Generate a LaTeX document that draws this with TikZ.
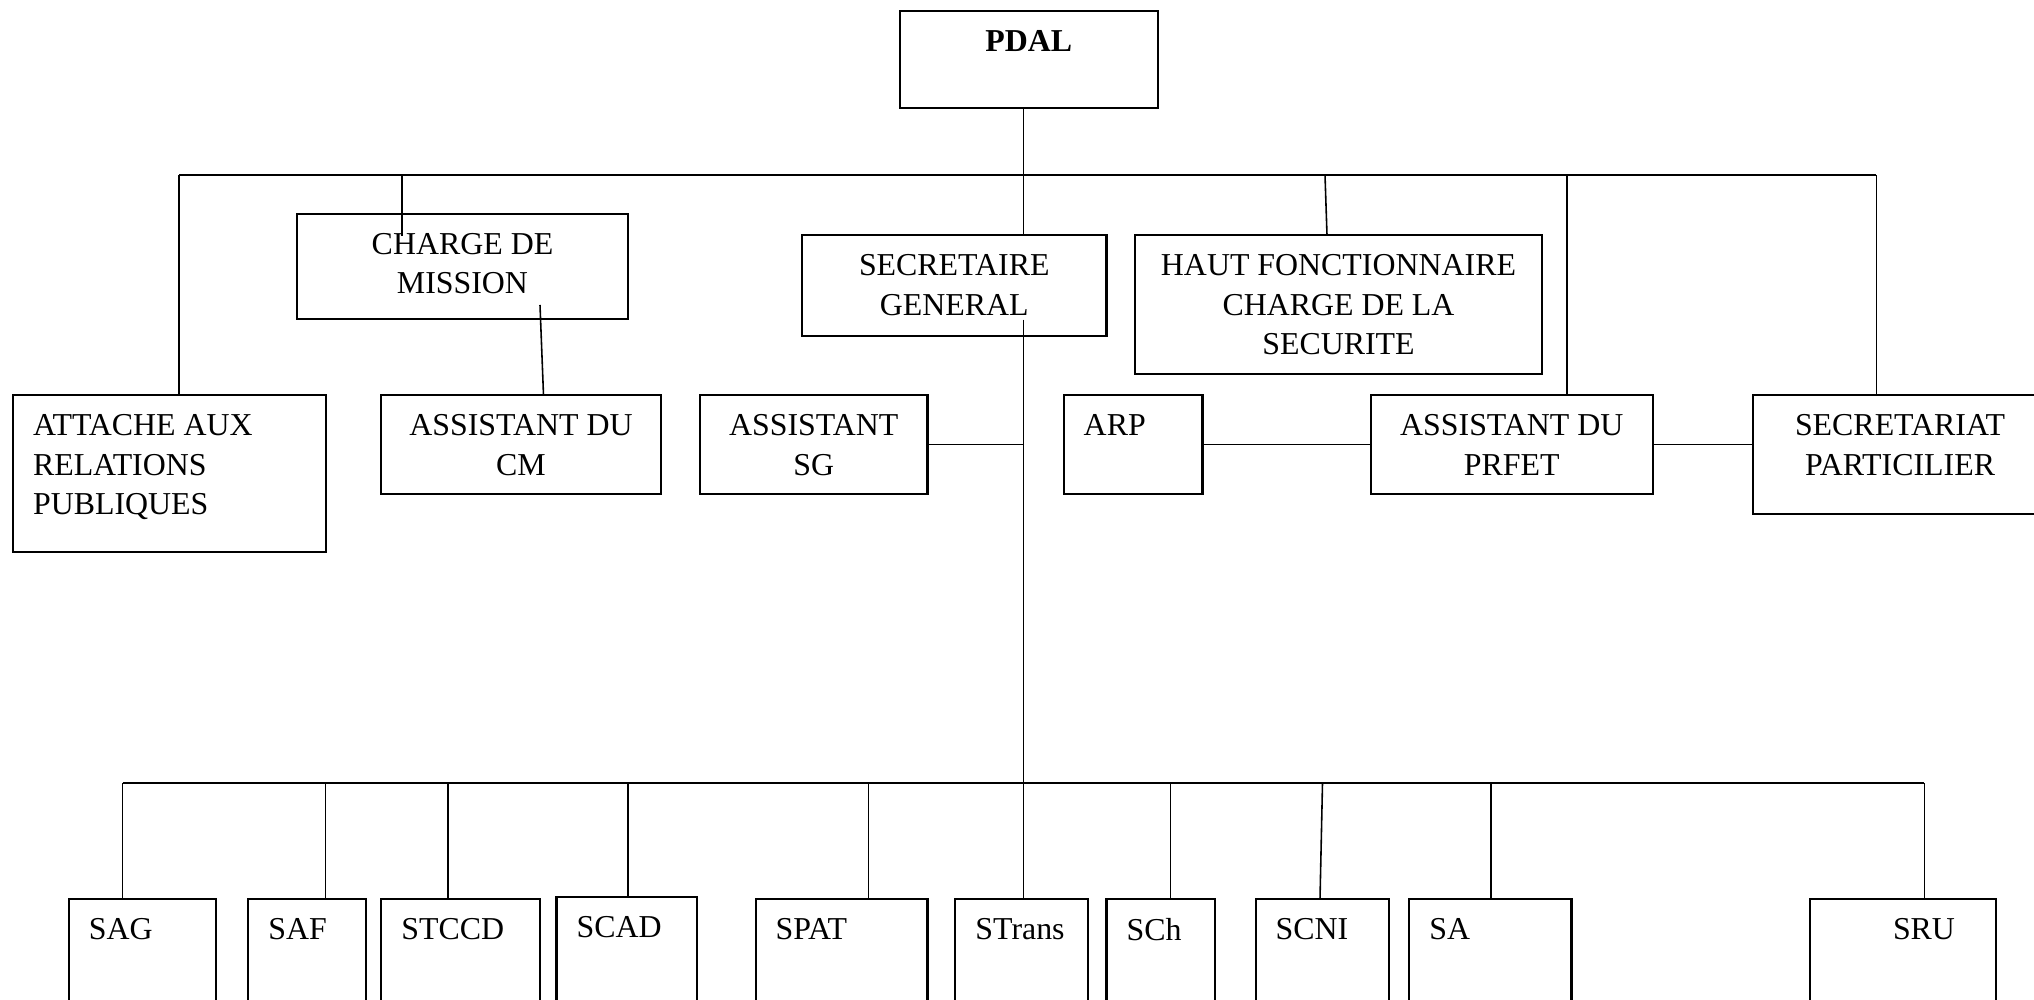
\documentclass[tikz,border=0pt]{standalone}
\usepackage{fontspec}
\setmainfont{Liberation Serif}
\usetikzlibrary{positioning}
\tikzset{
	boite/.style 2 args={draw,line width=0.6pt,minimum width=#1cm,minimum height=#2cm,
		inner sep=0pt,outer sep=0pt,anchor=north west},
	lien/.style={line width=0.45pt},
	barre/.style={line width=0.65pt},
	texte/.style={inner sep=0pt,outer sep=0pt,align=center,
		font=\fontsize{9.07}{11.27}\selectfont},
	texteg/.style={texte,align=left}
}
\begin{document}
\begin{tikzpicture}
	\useasboundingbox (0,0) rectangle (20.34,-10);
	\clip (0,0) rectangle (20.34,-10);
	%cases du haut
	\node[boite={2.584}{0.972}] (pdal) at (8.996,-0.107) {};
	\node[boite={3.31}{1.05}] (cdm) at (2.97,-2.136) {};
	\node[boite={3.045}{1.014}] (sg) at (8.02,-2.35) {};
	\node[boite={4.07}{1.39}] (hfcs) at (11.35,-2.35) {};
	\node[boite={3.126}{1.57}] (att) at (0.13,-3.95) {};
	\node[boite={2.80}{0.99}] (acm) at (3.81,-3.95) {};
	\node[boite={2.275}{0.99}] (asg) at (7.00,-3.95) {};
	\node[boite={1.388}{0.99}] (arp) at (10.637,-3.95) {};
	\node[boite={2.816}{0.99}] (apr) at (13.71,-3.95) {};
	\node[boite={2.94}{1.186}] (spart) at (17.53,-3.95) {};
	%services
	\node[boite={1.472}{1.3}] (sag) at (0.688,-8.993) {};
	\node[boite={1.174}{1.3}] (saf) at (2.484,-8.993) {};
	\node[boite={1.589}{1.3}] (stccd) at (3.814,-8.993) {};
	\node[boite={1.407}{1.3}] (scad) at (5.565,-8.973) {};
	\node[boite={1.719}{1.3}] (spat) at (7.556,-8.993) {};
	\node[boite={1.329}{1.3}] (strans) at (9.554,-8.993) {};
	\node[boite={1.083}{1.3}] (sch) at (11.065,-8.993) {};
	\node[boite={1.336}{1.3}] (scni) at (12.557,-8.993) {};
	\node[boite={1.621}{1.3}] (sa) at (14.094,-8.993) {};
	\node[boite={1.868}{1.3}] (sru) at (18.096,-8.993) {};
	%textes
	\node[texte,below=5.5pt of pdal.north,font=\fontsize{9.07}{11.27}\selectfont\bfseries] (t-pdal) {PDAL};
	\node[texte,below=5.5pt of cdm.north] (t-cdm) {CHARGE DE\\MISSION};
	\node[texte,below=5.5pt of sg.north] (t-sg) {SECRETAIRE\\GENERAL};
	\node[texte,below=5.5pt of hfcs.north] (t-hfcs) {HAUT FONCTIONNAIRE\\CHARGE DE LA\\SECURITE};
	\node[texteg,below right=5.5pt and 5.7pt of att.north west] (t-att) {ATTACHE AUX\\RELATIONS\\PUBLIQUES};
	\node[texte,below=5.5pt of acm.north] (t-acm) {ASSISTANT DU\\CM};
	\node[texte,below=5.5pt of asg.north] (t-asg) {ASSISTANT\\SG};
	\node[texteg,below right=5.5pt and 5.7pt of arp.north west] (t-arp) {ARP};
	\node[texte,below=5.5pt of apr.north] (t-apr) {ASSISTANT DU\\PRFET};
	\node[texte,below=5.5pt of spart.north] (t-spart) {SECRETARIAT\\PARTICILIER};
	\node[texteg,below right=5.5pt and 5.7pt of sag.north west] (t-sag) {SAG};
	\node[texteg,below right=5.5pt and 5.7pt of saf.north west] (t-saf) {SAF};
	\node[texteg,below right=5.5pt and 5.7pt of stccd.north west] (t-stccd) {STCCD};
	\node[texteg,below right=5.5pt and 5.7pt of scad.north west] (t-scad) {SCAD};
	\node[texteg,below right=5.5pt and 5.7pt of spat.north west] (t-spat) {SPAT};
	\node[texteg,below right=5.5pt and 5.7pt of strans.north west] (t-strans) {STrans};
	\node[texteg,below right=5.5pt and 5.7pt of sch.north west] (t-sch) {SCh};
	\node[texteg,below right=5.5pt and 5.7pt of scni.north west] (t-scni) {SCNI};
	\node[texteg,below right=5.5pt and 5.7pt of sa.north west] (t-sa) {SA};
	\node[texte,below=5.5pt of sru.north,xshift=0.21cm] (t-sru) {SRU};
	%liens du haut
	\coordinate (hg) at (1.79,-1.75);
	\coordinate (hd) at (18.764,-1.75);
	\coordinate (axe) at (10.235,-3.196);
	\coordinate (c1) at (4.02,-2.357);
	\coordinate (c2) at (5.40,-3.05);
	\draw[barre] (hg) -- (hd);
	\draw[lien] (hg) -- (att.north -| hg);
	\draw[lien] (hd) -- (spart.north -| hd);
	\draw[lien] (c1 |- hg) -- (c1);
	\draw[lien] (pdal.south -| axe) -- (sg.north -| axe);
	\draw[lien] ([xshift=-0.135cm]hfcs.north |- hg) -- ([xshift=-0.115cm]hfcs.north);
	\draw[lien] ([xshift=0.552cm]apr.north |- hg) -- ([xshift=0.552cm]apr.north);
	\draw[lien] (c2) -- ([xshift=0.225cm]acm.north);
	\draw[lien] (asg.east) -- (asg.east -| axe);
	\draw[lien] (arp.east) -- (apr.west);
	\draw[lien] (apr.east) -- (apr.east -| spart.west);
	%liens du bas
	\coordinate (bh) at (0,-7.833);
	\draw[lien] (axe) -- (strans.north -| axe);
	\draw[barre] ([xshift=-0.198cm]sag.north |- bh) -- ([xshift=0.214cm]sru.north |- bh);
	\foreach \n/\dx in {sag/-0.198,saf/0.185,stccd/-0.128,scad/0.01,spat/0.27,sch/0.10,sa/0.006,sru/0.214}
		\draw[lien] ([xshift=\dx cm]\n.north |- bh) -- ([xshift=\dx cm]\n.north);
	\draw[lien] (scni.north |- bh) -- ([xshift=-0.025cm]scni.north);
\end{tikzpicture}
\end{document}
